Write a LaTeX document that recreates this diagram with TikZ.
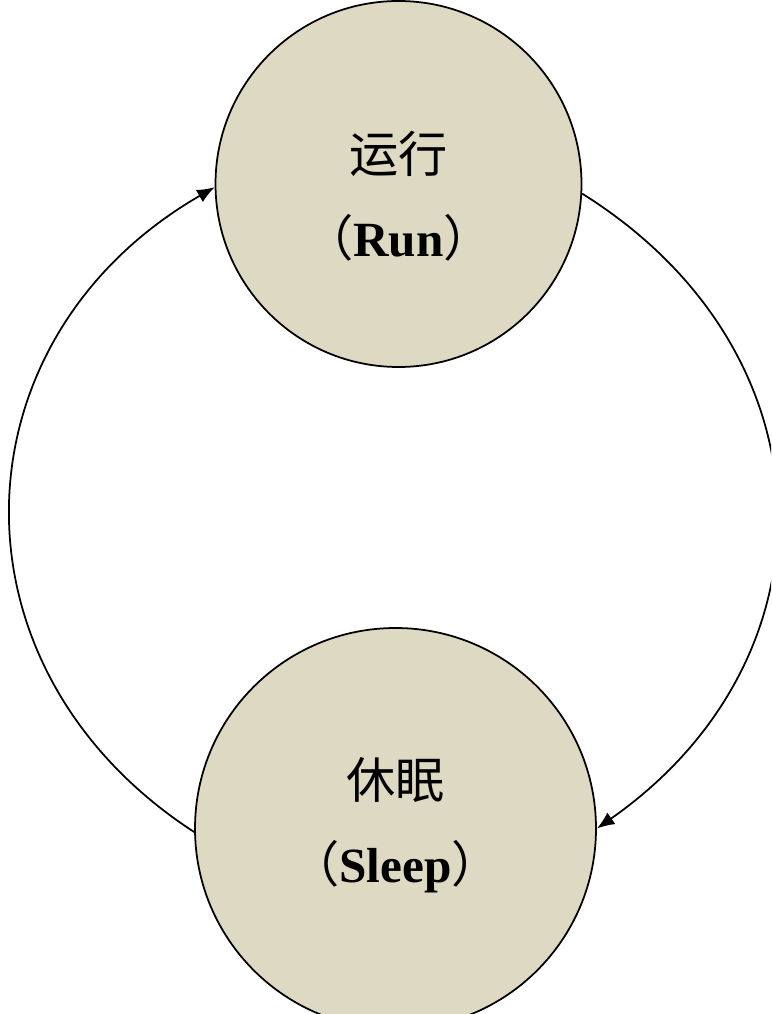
\documentclass[tikz,border=0pt]{standalone}
\usepackage{fontspec}
\setmainfont{Liberation Serif}
\newfontfamily\cjk{Noto Sans CJK SC}
\usetikzlibrary{arrows.meta}

\definecolor{stateFill}{RGB}{221,217,195}

\begin{document}
\begin{tikzpicture}[
	every node/.style={inner sep=0pt},
	state/.style={circle,draw=black,fill=stateFill,line width=0.5pt},
	caption/.style={align=center,font=\fontsize{14}{23.8}\selectfont},
	trans/.style={-{Latex[length=5pt,width=4pt]},line width=0.5pt,looseness=1.2}
	]
	% page frame (the arcs run over the right edge)
	\clip (0,0) rectangle (7.71,-10.14);
	\fill[white] (0,0) rectangle (7.71,-10.14);

	% the two states
	\node[state,minimum size=3.66cm] (run) at (3.985,-1.84) {};
	\node[state,minimum size=4.01cm] (sleep) at (3.955,-8.285) {};

	% texts in the states
	\node[caption] (run-text) at ([yshift=-0.12cm]run.center)
		{{\cjk 运行}\\{\cjk （}\textbf{Run}{\cjk ）}};
	\node[caption] (sleep-text) at ([yshift=0.03cm]sleep.center)
		{{\cjk 休眠}\\{\cjk （}\textbf{Sleep}{\cjk ）}};

	% transitions
	\draw[trans] (run.-3) to[out=-32,in=35] (sleep.east);
	\draw[trans] (sleep.181) to[out=147,in=210] (run.181);
\end{tikzpicture}
\end{document}
